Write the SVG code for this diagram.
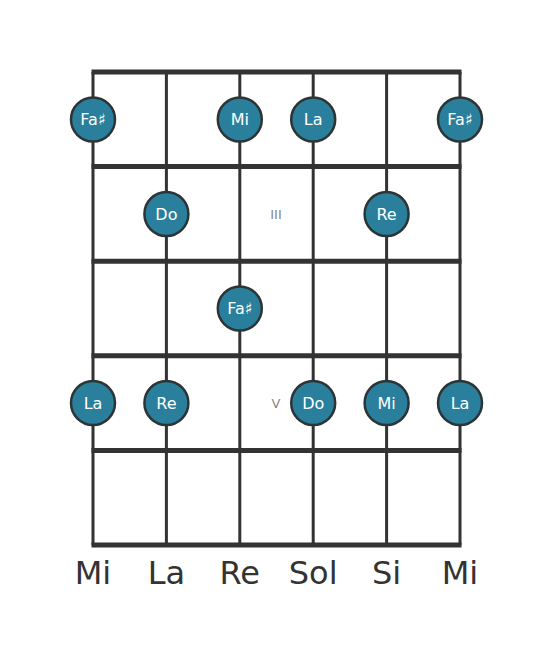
<svg xmlns="http://www.w3.org/2000/svg" width="553" height="656" viewBox="0 0 553 656">
<style>
.str{stroke:#333;stroke-width:3}
.fret{stroke:#333;stroke-width:5}
.note circle{fill:#2a7f9c;stroke:#2d3436;stroke-width:2.5}
.note text{fill:#fff;font-family:"DejaVu Sans",sans-serif;font-size:16px;text-anchor:middle;dominant-baseline:central}
.mark{fill:#888;font-family:"DejaVu Sans",sans-serif;font-size:13px;text-anchor:middle;dominant-baseline:central}
.lbl{fill:#333;font-family:"DejaVu Sans",sans-serif;font-size:32px;text-anchor:middle}
</style>
<rect width="553" height="656" fill="#fff"/>
<g id="fretboard">
<line class="str" x1="93" y1="72" x2="93" y2="545"/>
<line class="str" x1="166.4" y1="72" x2="166.4" y2="545"/>
<line class="str" x1="239.8" y1="72" x2="239.8" y2="545"/>
<line class="str" x1="313.2" y1="72" x2="313.2" y2="545"/>
<line class="str" x1="386.6" y1="72" x2="386.6" y2="545"/>
<line class="str" x1="460" y1="72" x2="460" y2="545"/>
<line class="fret" x1="91.5" y1="72" x2="461.5" y2="72"/>
<line class="fret" x1="91.5" y1="166.6" x2="461.5" y2="166.6"/>
<line class="fret" x1="91.5" y1="261.2" x2="461.5" y2="261.2"/>
<line class="fret" x1="91.5" y1="355.8" x2="461.5" y2="355.8"/>
<line class="fret" x1="91.5" y1="450.4" x2="461.5" y2="450.4"/>
<line class="fret" x1="91.5" y1="545" x2="461.5" y2="545"/>
</g>
<g id="markers">
<text class="mark" x="276" y="214">III</text>
<text class="mark" x="276" y="403">V</text>
</g>
<g id="n1" class="note"><circle cx="93" cy="119.5" r="22"/><text x="93" y="119.5">Fa♯</text></g>
<g id="n2" class="note"><circle cx="239.8" cy="119.5" r="22"/><text x="239.8" y="119.5">Mi</text></g>
<g id="n3" class="note"><circle cx="313.2" cy="119.5" r="22"/><text x="313.2" y="119.5">La</text></g>
<g id="n4" class="note"><circle cx="460" cy="119.5" r="22"/><text x="460" y="119.5">Fa♯</text></g>
<g id="n5" class="note"><circle cx="166.4" cy="214" r="22"/><text x="166.4" y="214">Do</text></g>
<g id="n6" class="note"><circle cx="386.6" cy="214" r="22"/><text x="386.6" y="214">Re</text></g>
<g id="n7" class="note"><circle cx="239.8" cy="308.5" r="22"/><text x="239.8" y="308.5">Fa♯</text></g>
<g id="n8" class="note"><circle cx="93" cy="403" r="22"/><text x="93" y="403">La</text></g>
<g id="n9" class="note"><circle cx="166.4" cy="403" r="22"/><text x="166.4" y="403">Re</text></g>
<g id="n10" class="note"><circle cx="313.2" cy="403" r="22"/><text x="313.2" y="403">Do</text></g>
<g id="n11" class="note"><circle cx="386.6" cy="403" r="22"/><text x="386.6" y="403">Mi</text></g>
<g id="n12" class="note"><circle cx="460" cy="403" r="22"/><text x="460" y="403">La</text></g>
<g id="labels">
<text class="lbl" x="93" y="584">Mi</text>
<text class="lbl" x="166.4" y="584">La</text>
<text class="lbl" x="239.8" y="584">Re</text>
<text class="lbl" x="313.2" y="584">Sol</text>
<text class="lbl" x="386.6" y="584">Si</text>
<text class="lbl" x="460" y="584">Mi</text>
</g>
</svg>
